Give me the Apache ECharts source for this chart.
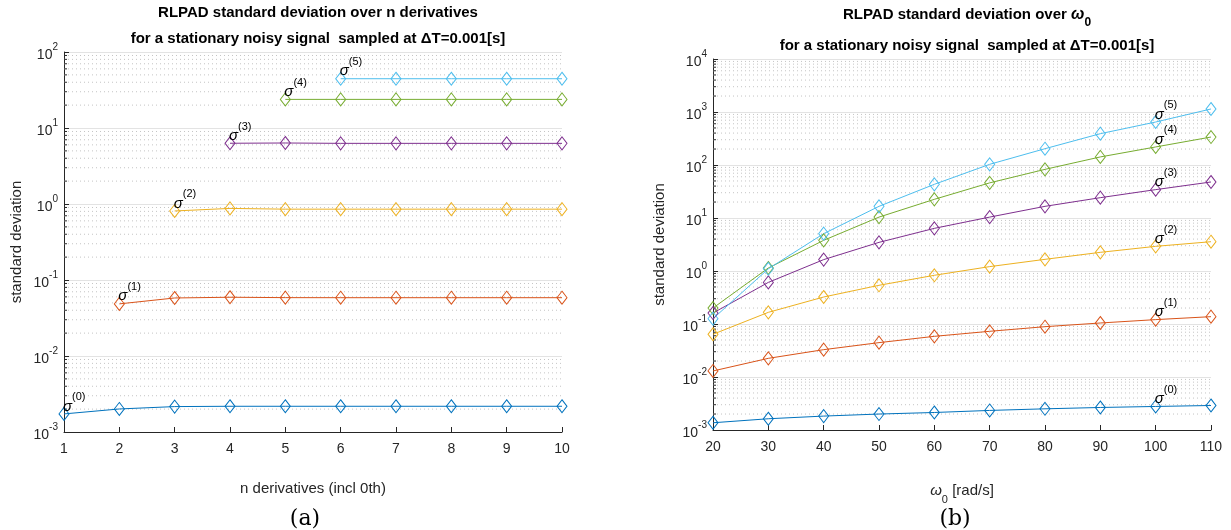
<!DOCTYPE html>
<html>
<head>
<meta charset="utf-8">
<script src="https://cdn.jsdelivr.net/npm/echarts@6/dist/echarts.min.js"></script>
<style>html,body{margin:0;padding:0;background:#fff;}#c{width:1231px;height:530px;}</style>
</head>
<body>
<div id="c"></div>
<script>
// ---------- data ----------
const nDeriv = [1, 2, 3, 4, 5, 6, 7, 8, 9, 10];
const leftS0 = [0.00173, 0.00201, 0.00216, 0.00218, 0.00218, 0.00218, 0.00218, 0.00218, 0.00218, 0.00218];
const leftS1 = [0.0485, 0.058, 0.0593, 0.0586, 0.0585, 0.0585, 0.0585, 0.0585, 0.0585];
const leftS2 = [0.81, 0.875, 0.855, 0.855, 0.855, 0.855, 0.855, 0.855];
const leftS3 = [6.3, 6.35, 6.28, 6.28, 6.28, 6.28, 6.28];
const leftS4 = [23.8, 23.8, 23.8, 23.8, 23.8, 23.8];
const leftS5 = [44.5, 44.5, 44.5, 44.5, 44.5];

const omega = [20, 30, 40, 50, 60, 70, 80, 90, 100, 110];
const rightS0 = [0.00137, 0.00163, 0.00183, 0.0020, 0.00214, 0.00234, 0.00251, 0.00266, 0.00278, 0.0029];
const rightS1 = [0.013, 0.0225, 0.0328, 0.0445, 0.0585, 0.0728, 0.089, 0.1045, 0.121, 0.1375];
const rightS2 = [0.064, 0.166, 0.323, 0.537, 0.83, 1.21, 1.66, 2.25, 2.92, 3.57];
const rightS3 = [0.161, 0.61, 1.64, 3.47, 6.38, 10.4, 16.6, 24.2, 34.3, 47.8];
const rightS4 = [0.2, 1.14, 3.79, 10.4, 22.5, 46, 82.8, 142, 219, 337];
const rightS5 = [0.126, 1.1, 5.06, 16.6, 43.2, 103, 203, 390, 647, 1140];

const sigmaLabels = ['(0)', '(1)', '(2)', '(3)', '(4)', '(5)'];
const colors = ['#0072BD', '#D95319', '#EDB120', '#7E2F8E', '#77AC30', '#4DBEEE'];

// ---------- helpers ----------
const TXT = '#262626';
const FONT = 'Liberation Sans, Arial, Helvetica, sans-serif';

function minorValues(minExp, maxExp) {
  const out = [];
  for (let e = minExp; e < maxExp; e++) {
    for (let k = 2; k <= 9; k++) out.push(k * Math.pow(10, e));
  }
  return out;
}

const sigmaRich = {
  s: { fontSize: 15, fontStyle: 'italic', fontFamily: FONT, color: '#000', verticalAlign: 'bottom', lineHeight: 22 },
  p: { fontSize: 11, fontFamily: FONT, color: '#000', verticalAlign: 'top', lineHeight: 22 }
};

function makeSeries(xs, ys, idx, gridIdx, labelAtX) {
  const start = xs.length - ys.length;
  const data = ys.map((v, i) => {
    const x = xs[start + i];
    const item = { value: [x, v] };
    if (x === labelAtX) {
      item.label = {
        show: true,
        position: ['50%', '0%'],
        align: 'left',
        verticalAlign: 'bottom',
        offset: [-1, 7],
        formatter: '{s|σ}{p|' + sigmaLabels[idx] + '}',
        rich: sigmaRich
      };
    }
    return item;
  });
  return {
    type: 'line',
    xAxisIndex: gridIdx,
    yAxisIndex: gridIdx,
    data: data,
    symbol: 'diamond',
    symbolSize: [10, 13],
    showAllSymbol: true,
    lineStyle: { color: colors[idx], width: 1 },
    itemStyle: { color: 'rgba(255,255,255,0)', borderColor: colors[idx], borderWidth: 1 },
    label: { show: false },
    emphasis: { disabled: true },
    z: 5
  };
}

function minorSeries(gridIdx, xMin, vals) {
  return {
    type: 'custom',
    xAxisIndex: gridIdx,
    yAxisIndex: gridIdx,
    silent: true,
    z: 1,
    clip: false,
    data: vals.map(v => [xMin, v]),
    renderItem: function (params, api) {
      const p = api.coord([api.value(0), api.value(1)]);
      const cs = params.coordSys;
      return {
        type: 'group',
        children: [
          { type: 'line', shape: { x1: cs.x, y1: p[1], x2: cs.x + cs.width, y2: p[1] },
            style: { stroke: '#c4c4c4', lineWidth: 1, lineDash: [1, 3] } },
          { type: 'line', shape: { x1: cs.x, y1: p[1], x2: cs.x + 3, y2: p[1] },
            style: { stroke: TXT, lineWidth: 1 } }
        ]
      };
    }
  };
}

const yLabel = {
  color: TXT,
  fontFamily: FONT,
  formatter: function (v) {
    const e = Math.round(Math.log10(v));
    return '{b|10}{s|' + e + '}';
  },
  rich: {
    b: { fontSize: 14, fontFamily: FONT, color: TXT, verticalAlign: 'bottom', lineHeight: 20 },
    s: { fontSize: 10, fontFamily: FONT, color: TXT, verticalAlign: 'top', lineHeight: 20 }
  },
  margin: 6
};

function yAxisCfg(gridIdx, min, max, gap) {
  return {
    type: 'log', logBase: 10, gridIndex: gridIdx, min: min, max: max, interval: 1,
    name: 'standard deviation', nameLocation: 'middle', nameGap: gap,
    nameTextStyle: { color: TXT, fontSize: 15, fontFamily: FONT },
    axisLine: { show: true, lineStyle: { color: TXT, width: 1 } },
    axisTick: { show: true, inside: true, length: 5, lineStyle: { color: TXT } },
    axisLabel: yLabel,
    splitLine: { show: true, lineStyle: { color: '#e3e3e3', width: 1 } },
    minorTick: { show: false }, minorSplitLine: { show: false }
  };
}

function xAxisCfg(gridIdx, min, max, interval, name, gap) {
  return {
    type: 'value', gridIndex: gridIdx, min: min, max: max, interval: interval,
    name: name, nameLocation: 'middle', nameGap: gap,
    nameTextStyle: { color: TXT, fontSize: 15, fontFamily: FONT,
      rich: {
        w: { fontSize: 15, fontStyle: 'italic', fontFamily: FONT, color: TXT, verticalAlign: 'top', lineHeight: 22 },
        sub: { fontSize: 11, fontFamily: FONT, color: TXT, verticalAlign: 'bottom', lineHeight: 22 },
        t: { fontSize: 15, fontFamily: FONT, color: TXT, verticalAlign: 'top', lineHeight: 22 }
      } },
    axisLine: { show: true, lineStyle: { color: TXT, width: 1 } },
    axisTick: { show: true, inside: true, length: 5, lineStyle: { color: TXT } },
    axisLabel: { color: TXT, fontSize: 14, fontFamily: FONT, margin: 10 },
    splitLine: { show: false }
  };
}

const titleRichLeft = {
  t: { fontSize: 15, fontWeight: 'bold', fontFamily: FONT, color: '#000', lineHeight: 26, verticalAlign: 'top' }
};
const titleRichRight = {
  t1: { fontSize: 15, fontWeight: 'bold', fontFamily: FONT, color: '#000', lineHeight: 24, verticalAlign: 'top' },
  w: { fontSize: 16, fontWeight: 'bold', fontStyle: 'italic', fontFamily: FONT, color: '#000', lineHeight: 24, verticalAlign: 'top' },
  sub: { fontSize: 12, fontWeight: 'bold', fontFamily: FONT, color: '#000', lineHeight: 24, verticalAlign: 'bottom', padding: [0, 0, 2, 0] },
  t2: { fontSize: 15, fontWeight: 'bold', fontFamily: FONT, color: '#000', lineHeight: 30, verticalAlign: 'middle' }
};

const option = {
  animation: false,
  backgroundColor: '#fff',
  title: [
    { text: '{t|RLPAD standard deviation over n derivatives}\n{t|for a stationary noisy signal  sampled at ΔT=0.001[s]}',
      left: 313, top: 0, textAlign: 'center', textStyle: { rich: titleRichLeft } },
    { text: '{t1|RLPAD standard deviation over }{w|ω}{sub|0}\n{t2|for a stationary noisy signal  sampled at ΔT=0.001[s]}',
      left: 962, top: 2, textAlign: 'center', textStyle: { rich: titleRichRight } },
    { text: '(a)', left: 300, top: 503, textAlign: 'center',
      textStyle: { fontFamily: 'DejaVu Serif, Liberation Serif, serif', fontWeight: 'normal', fontSize: 22, color: '#000' } },
    { text: '(b)', left: 950, top: 503, textAlign: 'center',
      textStyle: { fontFamily: 'DejaVu Serif, Liberation Serif, serif', fontWeight: 'normal', fontSize: 22, color: '#000' } }
  ],
  grid: [
    { left: 64, top: 52, width: 498, height: 380, containLabel: false },
    { left: 713, top: 59, width: 498, height: 371, containLabel: false }
  ],
  xAxis: [
    xAxisCfg(0, 1, 10, 1, 'n derivatives (incl 0th)', 49),
    xAxisCfg(1, 20, 110, 10, '{w|ω}{sub|0}{t| [rad/s]}', 53)
  ],
  yAxis: [
    yAxisCfg(0, 0.001, 100, 40),
    yAxisCfg(1, 0.001, 10000, 46)
  ],
  series: [
    minorSeries(0, 1, minorValues(-3, 2)),
    minorSeries(1, 20, minorValues(-3, 4)),
    makeSeries(nDeriv, leftS0, 0, 0, 1),
    makeSeries(nDeriv, leftS1, 1, 0, 2),
    makeSeries(nDeriv, leftS2, 2, 0, 3),
    makeSeries(nDeriv, leftS3, 3, 0, 4),
    makeSeries(nDeriv, leftS4, 4, 0, 5),
    makeSeries(nDeriv, leftS5, 5, 0, 6),
    makeSeries(omega, rightS0, 0, 1, 100),
    makeSeries(omega, rightS1, 1, 1, 100),
    makeSeries(omega, rightS2, 2, 1, 100),
    makeSeries(omega, rightS3, 3, 1, 100),
    makeSeries(omega, rightS4, 4, 1, 100),
    makeSeries(omega, rightS5, 5, 1, 100)
  ]
};

const chart = echarts.init(document.getElementById('c'), null, { renderer: 'canvas' });
chart.setOption(option);
</script>
</body>
</html>
